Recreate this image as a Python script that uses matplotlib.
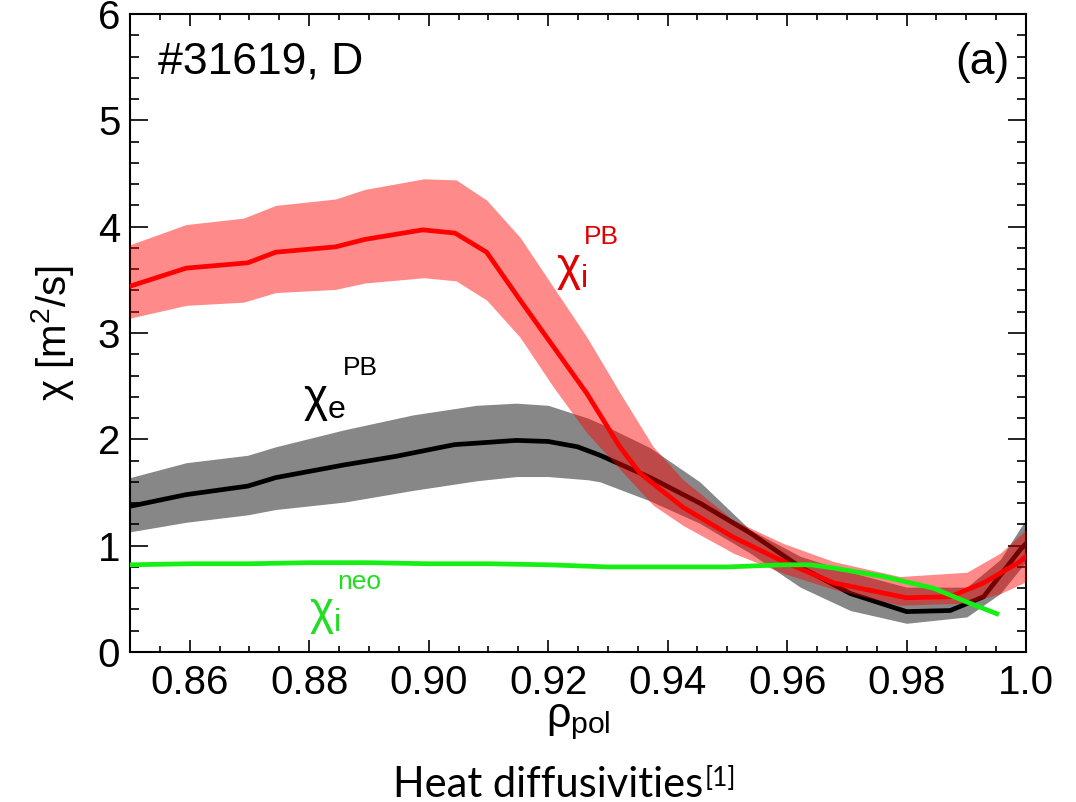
import matplotlib
matplotlib.use("Agg")
import matplotlib.pyplot as plt
from matplotlib.ticker import MultipleLocator

plt.rcParams['font.family'] = ['Liberation Sans', 'DejaVu Sans']
plt.rcParams['mathtext.fontset'] = 'custom'
plt.rcParams['mathtext.rm'] = 'Liberation Sans'
plt.rcParams['mathtext.it'] = 'Liberation Sans'
plt.rcParams['mathtext.bf'] = 'Liberation Sans:bold'

# chi_i^PB (red) : mean and uncertainty band
red_x = [0.85, 0.8594, 0.8697, 0.8744, 0.8844, 0.8893, 0.8990, 0.9044, 0.9097, 0.9153, 0.9209,
         0.9265, 0.9320, 0.9354, 0.9426, 0.9510, 0.9594, 0.9678, 0.9800, 0.9873, 0.9929, 0.9990, 1.0]
red_y = [3.44, 3.61, 3.66, 3.76, 3.81, 3.88, 3.97, 3.94, 3.76, 3.31, 2.87,
         2.43, 1.93, 1.68, 1.36, 1.08, 0.85, 0.65, 0.51, 0.52, 0.65, 0.85, 0.90]
red_band_x = [0.85, 0.8594, 0.8690, 0.8744, 0.8844, 0.8893, 0.8992, 0.9046, 0.9097, 0.9153, 0.9209,
              0.9265, 0.9320, 0.9376, 0.9426, 0.9510, 0.9594, 0.9678, 0.9789, 0.9901, 0.9957, 1.0]
red_hi = [3.83, 4.02, 4.08, 4.20, 4.26, 4.35, 4.45, 4.44, 4.25, 3.90, 3.43,
          2.96, 2.44, 1.93, 1.62, 1.24, 1.02, 0.85, 0.71, 0.75, 0.93, 1.15]
red_lo = [3.14, 3.26, 3.29, 3.38, 3.41, 3.47, 3.52, 3.49, 3.31, 2.96, 2.49,
          2.06, 1.72, 1.38, 1.19, 0.93, 0.74, 0.59, 0.44, 0.46, 0.55, 0.66]

# chi_e^PB (black) : mean and uncertainty band
blk_x = [0.85, 0.8594, 0.8697, 0.8744, 0.8859, 0.8945, 0.9043, 0.9147, 0.9200, 0.9249, 0.9287,
         0.9371, 0.9454, 0.9538, 0.9622, 0.9706, 0.9800, 0.9873, 0.9929, 0.9990, 1.0]
blk_y = [1.37, 1.48, 1.56, 1.64, 1.76, 1.84, 1.95, 1.99, 1.98, 1.93, 1.85,
         1.64, 1.40, 1.12, 0.80, 0.55, 0.38, 0.39, 0.52, 0.96, 1.02]
gray_x = [0.85, 0.8594, 0.8697, 0.8744, 0.8859, 0.8974, 0.9080, 0.9147, 0.9200, 0.9266,
          0.9287, 0.9371, 0.9454, 0.9538, 0.9622, 0.9706, 0.9800, 0.9901, 0.9957, 1.0]
gray_hi = [1.64, 1.78, 1.85, 1.93, 2.09, 2.23, 2.32, 2.34, 2.32, 2.20,
           2.15, 1.92, 1.60, 1.15, 0.90, 0.75, 0.61, 0.61, 0.87, 1.25]
gray_lo = [1.13, 1.22, 1.29, 1.34, 1.41, 1.52, 1.61, 1.65, 1.65, 1.62,
           1.60, 1.42, 1.21, 0.93, 0.61, 0.39, 0.27, 0.33, 0.55, 0.85]

# chi_i^neo (green)
grn_x = [0.85, 0.86, 0.87, 0.88, 0.89, 0.90, 0.91, 0.92, 0.93, 0.94, 0.95,
         0.9594, 0.9640, 0.9678, 0.9761, 0.9845, 0.9901, 0.9951]
grn_y = [0.82, 0.83, 0.83, 0.84, 0.84, 0.83, 0.83, 0.82, 0.80, 0.80, 0.80,
         0.82, 0.82, 0.79, 0.71, 0.60, 0.47, 0.36]

xticks = [0.86, 0.88, 0.90, 0.92, 0.94, 0.96, 0.98, 1.00]
xtick_labels = ['0.86', '0.88', '0.90', '0.92', '0.94', '0.96', '0.98', '1.0']
yticks = [0, 1, 2, 3, 4, 5, 6]

fig = plt.figure(figsize=(10.76, 8.02), dpi=100)
ax = fig.add_axes([130 / 1076, 1 - 652 / 802, 896 / 1076, 638 / 802])

ax.fill_between(gray_x, gray_lo, gray_hi, color='#878787', lw=0, zorder=1)
ax.plot(blk_x, blk_y, color='black', lw=3.4, zorder=2)
ax.fill_between(red_band_x, red_lo, red_hi, color='#ff0000', alpha=0.46, lw=0, zorder=3)
ax.plot(red_x, red_y, color='#ff0000', lw=3.4, zorder=4)
ax.plot(grn_x, grn_y, color='#14f014', lw=3.4, zorder=5)

ax.set_xlim(0.85, 1.0)
ax.set_ylim(0, 6)
ax.set_xticks(xticks)
ax.set_xticklabels(xtick_labels)
ax.set_yticks(yticks)
ax.xaxis.set_minor_locator(MultipleLocator(0.005))
ax.yaxis.set_minor_locator(MultipleLocator(0.2))
ax.tick_params(axis='x', which='major', direction='in', length=8.6, width=1.2,
               top=True, labelsize=29, pad=9)
ax.tick_params(axis='x', which='minor', direction='in', length=4.3, width=1.2, top=True)
ax.tick_params(axis='y', which='major', direction='in', length=13, width=1.2,
               right=True, labelsize=29, pad=7)
ax.tick_params(axis='y', which='minor', direction='in', length=6.5, width=1.2, right=True)
for sp in ax.spines.values():
    sp.set_linewidth(1.5)

ax.set_xlabel(r'$\rho_{\mathrm{pol}}$', fontsize=31, labelpad=0)
ax.set_ylabel(r'$\chi$ [m$^2$/s]', fontsize=29, labelpad=16)

ax.text(0.031, 0.906, '#31619, D', transform=ax.transAxes, fontsize=32, va='baseline')
ax.text(0.982, 0.906, '(a)', transform=ax.transAxes, fontsize=32, va='baseline', ha='right')


def chi_label(x, y, sub, sup, color):
    t = ax.text(x, y, r'$\chi_{\mathrm{%s}}$' % sub, color=color, fontsize=33,
                va='baseline', zorder=6)
    ax.annotate(sup, xy=(1, 1), xycoords=t, xytext=(-2, -1), textcoords='offset points',
                color=color, fontsize=19, va='bottom', ha='left')


chi_label(0.9213, 3.50, 'i', 'PB', '#e00000')
chi_label(0.8790, 2.27, 'e', 'PB', 'black')
chi_label(0.8800, 0.26, 'i', 'neo', '#22dd22')

cap = fig.text(393 / 1076, 1 - 797 / 802, 'Heat diffusivities', family='Lato',
               fontsize=30, va='baseline')
ax.annotate('[1]', xy=(1, 0), xycoords=cap, xytext=(1, 13), textcoords='offset points',
            family='Lato', fontsize=19, va='baseline', ha='left')

fig.savefig('out.png', dpi=100)
